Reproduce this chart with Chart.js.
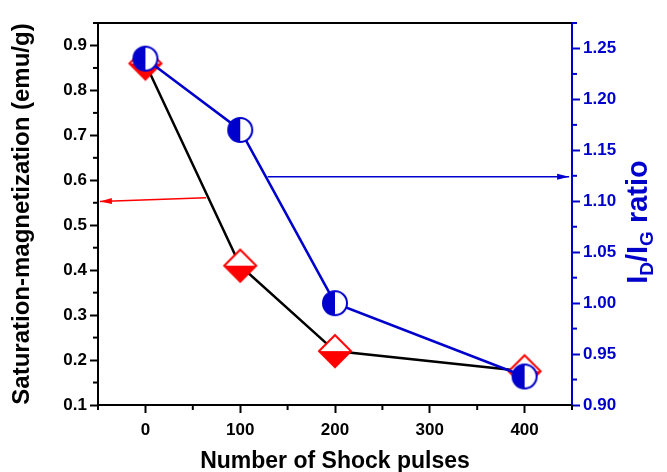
<!DOCTYPE html>
<html><head><meta charset="utf-8">
<script src="https://cdn.jsdelivr.net/npm/chart.js@4.4.1/dist/chart.umd.min.js"></script>
<style>html,body{margin:0;padding:0;background:#fff}#wrap{width:667px;height:472px;position:relative}</style>
</head><body><div id="wrap"><canvas id="c"></canvas></div>
<script>
// ---- data ----
const shockPulses = [0, 100, 200, 400];
const saturationMagnetization = [0.86, 0.41, 0.22, 0.175];
const idIgRatio = [1.24, 1.17, 1.00, 0.928];
const xMajorTicks = [0, 100, 200, 300, 400];
const xMinorTicks = [-50, 50, 150, 250, 350, 450];
const leftMajorTicks = [0.1, 0.2, 0.3, 0.4, 0.5, 0.6, 0.7, 0.8, 0.9];
const leftMinorTicks = [0.15, 0.25, 0.35, 0.45, 0.55, 0.65, 0.75, 0.85, 0.95];
const rightMajorTicks = [0.90, 0.95, 1.00, 1.05, 1.10, 1.15, 1.20, 1.25];
const rightMinorTicks = [0.925, 0.975, 1.025, 1.075, 1.125, 1.175, 1.225, 1.275];
const redArrowX = [64, -48];
const redArrowY = [0.561, 0.553];
const blueArrowX = [129, 447];
const blueArrowY = [1.124, 1.124];

const RED = '#FF0000';
const BLUE = '#0000CC';
const FONT = 'Liberation Sans, Arial, sans-serif';

function makeDiamond(){
  const s = 38, m = 19, h = 16;
  const c = document.createElement('canvas'); c.width = s; c.height = s;
  const g = c.getContext('2d');
  const path = () => { g.beginPath(); g.moveTo(m, m - h); g.lineTo(m + h, m); g.lineTo(m, m + h); g.lineTo(m - h, m); g.closePath(); };
  path(); g.fillStyle = '#fff'; g.fill();
  g.beginPath(); g.moveTo(m - h, m); g.lineTo(m + h, m); g.lineTo(m, m + h); g.closePath(); g.fillStyle = RED; g.fill();
  path(); g.lineWidth = 2; g.strokeStyle = RED; g.stroke();
  return c;
}
function makeCircle(){
  const s = 30, m = 15, r = 12;
  const c = document.createElement('canvas'); c.width = s; c.height = s;
  const g = c.getContext('2d');
  g.beginPath(); g.arc(m, m, r, 0, Math.PI * 2); g.fillStyle = '#fff'; g.fill();
  g.beginPath(); g.moveTo(m, m); g.arc(m, m, r, Math.PI / 2, Math.PI * 1.5); g.closePath(); g.fillStyle = BLUE; g.fill();
  g.beginPath(); g.arc(m, m, r, 0, Math.PI * 2); g.lineWidth = 2; g.strokeStyle = BLUE; g.stroke();
  return c;
}

const toXY = (xs, ys) => xs.map((x, i) => ({x, y: ys[i]}));

const extras = {
  id: 'extras',
  afterDatasetsDraw(chart){
    const ctx = chart.ctx;
    // arrowheads
    [[2, RED], [3, BLUE]].forEach(([idx, col]) => {
      const d = chart.getDatasetMeta(idx).data;
      const p1 = d[0], p2 = d[1];
      const ang = Math.atan2(p2.y - p1.y, p2.x - p1.x);
      const L = 12, W = 3;
      ctx.save(); ctx.translate(p2.x, p2.y); ctx.rotate(ang);
      ctx.beginPath(); ctx.moveTo(0, 0); ctx.lineTo(-L, -W); ctx.lineTo(-L, W); ctx.closePath();
      ctx.fillStyle = col; ctx.fill(); ctx.restore();
    });
  },
  afterDraw(chart){
    const {ctx, chartArea: a, scales: {x, y, y1}} = chart;
    ctx.save();
    // top frame
    ctx.strokeStyle = '#000'; ctx.lineWidth = 2;
    ctx.beginPath(); ctx.moveTo(a.left - 1, a.top); ctx.lineTo(a.right, a.top); ctx.stroke();
    // minor ticks
    const ML = 5;
    ctx.lineWidth = 2;
    ctx.strokeStyle = '#000';
    xMinorTicks.forEach(v => { const px = x.getPixelForValue(v); ctx.beginPath(); ctx.moveTo(px, a.bottom); ctx.lineTo(px, a.bottom + ML); ctx.stroke(); });
    leftMinorTicks.forEach(v => { const py = y.getPixelForValue(v); ctx.beginPath(); ctx.moveTo(a.left, py); ctx.lineTo(a.left - ML, py); ctx.stroke(); });
    ctx.strokeStyle = BLUE;
    rightMinorTicks.forEach(v => { const py = y1.getPixelForValue(v); ctx.beginPath(); ctx.moveTo(a.right, py); ctx.lineTo(a.right + ML, py); ctx.stroke(); });
    // right axis title: I_D/I_G ratio (rotated, reads bottom to top)
    const big = 'bold 29px ' + FONT, small = 'bold 19px ' + FONT;
    const parts = [['I', big, 0], ['D', small, 6], ['/I', big, 0], ['G', small, 6], [' ratio', big, 0]];
    let total = 0;
    parts.forEach(p => { ctx.font = p[1]; total += ctx.measureText(p[0]).width; });
    const cy = (a.top + a.bottom) / 2 + 8;
    ctx.translate(a.right + 75, cy + total / 2);
    ctx.rotate(-Math.PI / 2);
    ctx.fillStyle = BLUE; ctx.textBaseline = 'alphabetic'; ctx.textAlign = 'left';
    let cx = 0;
    parts.forEach(p => { ctx.font = p[1]; ctx.fillText(p[0], cx, p[2]); cx += ctx.measureText(p[0]).width; });
    ctx.restore();
  }
};

const tickFont = {family: FONT, size: 17, weight: 'bold'};

new Chart(document.getElementById('c'), {
  type: 'line',
  data: {
    datasets: [
      {
        label: 'Saturation-magnetization', data: toXY(shockPulses, saturationMagnetization), yAxisID: 'y',
        borderColor: '#000', borderWidth: 2.5, pointStyle: makeDiamond(), pointRadius: 16, order: 2, clip: false
      },
      {
        label: 'ID/IG ratio', data: toXY(shockPulses, idIgRatio), yAxisID: 'y1',
        borderColor: BLUE, borderWidth: 2.5, pointStyle: makeCircle(), pointRadius: 13, order: 1, clip: false
      },
      {
        label: 'arrow-left', data: toXY(redArrowX, redArrowY), yAxisID: 'y',
        borderColor: RED, borderWidth: 1.5, pointRadius: 0, order: 4, clip: false
      },
      {
        label: 'arrow-right', data: toXY(blueArrowX, blueArrowY), yAxisID: 'y1',
        borderColor: BLUE, borderWidth: 1.5, pointRadius: 0, order: 3, clip: false
      }
    ]
  },
  options: {
    responsive: true, maintainAspectRatio: false, animation: false,
    events: [],
    layout: {padding: {top: 23, left: 0, right: 0, bottom: 0}},
    plugins: {legend: {display: false}, tooltip: {enabled: false}},
    scales: {
      x: {
        type: 'linear', min: -50, max: 450,
        afterBuildTicks: s => { s.ticks = xMajorTicks.map(v => ({value: v})); },
        afterFit: s => { s.height = 67; },
        border: {display: true, color: '#000', width: 2},
        grid: {drawOnChartArea: false, drawTicks: true, tickLength: 8, tickWidth: 2, tickColor: '#000'},
        ticks: {font: tickFont, color: '#000', padding: 7, maxRotation: 0, autoSkip: false, callback: v => String(v)},
        title: {display: true, text: 'Number of Shock pulses', color: '#000', font: {family: FONT, size: 23, weight: 'bold', lineHeight: 0.87}, padding: 0}
      },
      y: {
        type: 'linear', position: 'left', min: 0.1, max: 0.95,
        afterBuildTicks: s => { s.ticks = leftMajorTicks.map(v => ({value: v})); },
        afterFit: s => { s.width = 98; },
        border: {display: true, color: '#000', width: 2},
        grid: {drawOnChartArea: false, drawTicks: true, tickLength: 8, tickWidth: 2, tickColor: '#000'},
        ticks: {font: tickFont, color: '#000', padding: 3, autoSkip: false, callback: v => Number(v).toFixed(1)},
        title: {display: true, text: 'Saturation-magnetization (emu/g)', color: '#000', font: {family: FONT, size: 24, weight: 'bold'}, padding: {top: 8, bottom: 0}}
      },
      y1: {
        type: 'linear', position: 'right', min: 0.9, max: 1.275,
        afterBuildTicks: s => { s.ticks = rightMajorTicks.map(v => ({value: v})); },
        afterFit: s => { s.width = 95; },
        border: {display: true, color: BLUE, width: 2},
        grid: {drawOnChartArea: false, drawTicks: true, tickLength: 8, tickWidth: 2, tickColor: BLUE},
        ticks: {font: tickFont, color: BLUE, padding: 3, autoSkip: false, callback: v => Number(v).toFixed(2)},
        title: {display: false}
      }
    }
  },
  plugins: [extras]
});
</script>
</body></html>
